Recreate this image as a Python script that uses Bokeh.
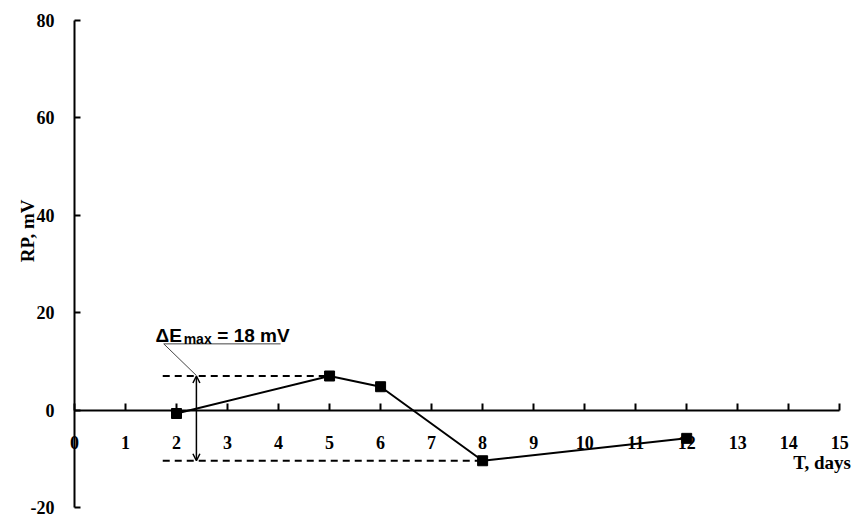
from bokeh.plotting import figure
from bokeh.models import Range1d, LinearAxis, FixedTicker, Arrow, OpenHead, Label
from bokeh.embed import file_html
from bokeh.resources import INLINE

# data
days = [2, 5, 6, 8, 12]
rp = [-0.7, 7.0, 4.8, -10.4, -5.8]
x_ticks = list(range(0, 16))
y_ticks = [-20, 0, 20, 40, 60, 80]

# annotation values
e_max = 7.0
e_min = -10.4
dash_start = 1.73
arrow_x = 2.39
leader_x = [2.39, 1.75, 4.04]
leader_y = [7.1, 13.6, 13.6]

p = figure(width=852, height=517, x_range=Range1d(-1.45, 15.25), y_range=Range1d(-22.05, 84.1),
           output_backend="svg", toolbar_location=None, x_axis_location=None,
           y_axis_location=None,
           min_border_left=0, min_border_right=0, min_border_top=0, min_border_bottom=0)
p.outline_line_color = None
p.grid.visible = False
p.background_fill_color = "white"
p.border_fill_color = "white"

serif = "Liberation Serif"


def style(ax, standoff, tick_in):
    ax.major_tick_in = tick_in
    ax.major_tick_out = 0
    ax.minor_tick_line_color = None
    ax.axis_line_width = 2
    ax.major_tick_line_width = 2
    ax.axis_line_color = "black"
    ax.major_tick_line_color = "black"
    ax.major_label_text_font = serif
    ax.major_label_text_font_style = "bold"
    ax.major_label_text_font_size = "18px"
    ax.major_label_text_color = "black"
    ax.major_label_standoff = standoff


# y axis at x = 0
ya = LinearAxis(fixed_location=0, bounds=(-20, 80), ticker=FixedTicker(ticks=y_ticks))
style(ya, 20, 6)
ya.major_label_overrides = {-20: "-20"}
p.add_layout(ya, "left")

# x axis at y = 0
xa = LinearAxis(fixed_location=0, bounds=(0, 15), ticker=FixedTicker(ticks=x_ticks))
style(xa, 26, 7)
p.add_layout(xa, "below")

# dashed guides
p.line([dash_start, days[1]], [e_max, e_max], line_dash="7 5", line_width=2, color="black")
p.line([dash_start, days[3]], [e_min, e_min], line_dash="7 5", line_width=2, color="black")

# series
p.line(days, rp, line_width=2, color="black")
p.scatter(days, rp, marker="square", size=10, color="black")

# arrow
p.add_layout(Arrow(start=OpenHead(size=7, line_width=1.5), end=OpenHead(size=7, line_width=1.5),
                   x_start=arrow_x, y_start=e_min, x_end=arrow_x, y_end=e_max,
                   line_width=1.5, line_color="black"))

# leader line
p.line(leader_x, leader_y, line_width=1, color="#444444")

sans = "Liberation Sans"
p.add_layout(Label(x=1.59, y=15.3, text="ΔE", text_font=sans, text_font_style="bold",
                   text_font_size="19px", text_color="black", text_baseline="alphabetic"))
p.add_layout(Label(x=2.14, y=14.7, text="max", text_font=sans, text_font_style="bold",
                   text_font_size="14px", text_color="black", text_baseline="alphabetic"))
p.add_layout(Label(x=2.80, y=15.3, text="= 18 mV", text_font=sans, text_font_style="bold",
                   text_font_size="19px", text_color="black", text_baseline="alphabetic"))

# axis titles
p.add_layout(Label(x=15.22, y=-10.8, text="T, days", text_font=serif, text_font_style="bold",
                   text_font_size="19px", text_color="black", text_align="right",
                   text_baseline="middle"))
p.add_layout(Label(x=-0.92, y=36.8, text="RP, mV", text_font=serif, text_font_style="bold",
                   text_font_size="19px", text_color="black", text_align="center",
                   text_baseline="middle", angle=1.5707963))

open("out.html", "w").write(file_html(p, INLINE))
